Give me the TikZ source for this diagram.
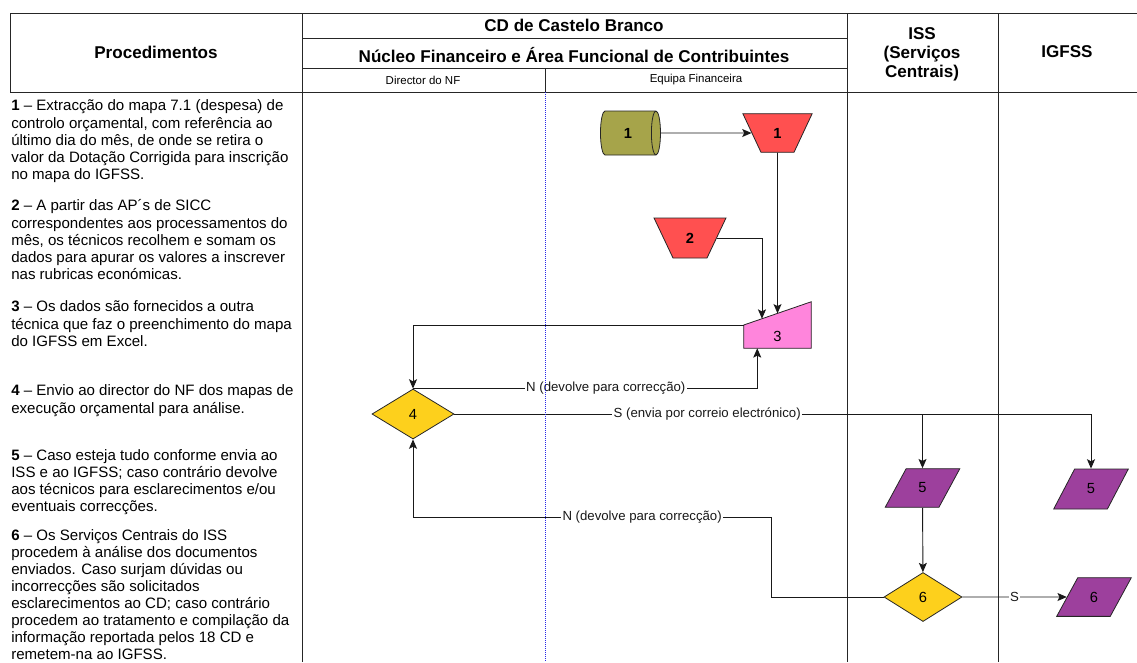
\documentclass[tikz,border=0pt]{standalone}
\usepackage{fontspec}
\setmainfont{Liberation Sans}
\usetikzlibrary{shapes.geometric,arrows.meta,calc}

\definecolor{oliveFill}{RGB}{166,164,74}
\definecolor{redFill}{RGB}{255,80,80}
\definecolor{pinkFill}{RGB}{255,133,220}
\definecolor{goldFill}{RGB}{253,208,28}
\definecolor{purpleFill}{RGB}{157,64,157}
\definecolor{laneBlue}{RGB}{40,40,230}

\begin{document}
\begin{tikzpicture}
[x=0.75pt,y=-0.75pt,
  tableLine/.style={line width=0.75pt,black!85},
  arrowDecorate/.style={-{Stealth[length=7pt,width=6pt,inset=1.5pt]},line width=0.7pt,black!90},
  headDecorate/.style={font=\fontsize{12.8}{14.3}\selectfont\bfseries,align=center},
  laneDecorate/.style={font=\fontsize{8.6}{10}\selectfont},
  stepDecorate/.style={anchor=north west,inner sep=0pt,align=left,font=\fontsize{11.3}{12.8}\selectfont},
  labelDecorate/.style={fill=white,inner sep=1pt,font=\fontsize{9.9}{11}\selectfont},
  shapeDecorate/.style={draw=black!85,line width=0.6pt,inner sep=0pt,font=\fontsize{11}{13}\selectfont},
  fileDecorate/.style={shapeDecorate,trapezium,trapezium stretches=true,shape border rotate=180,
    trapezium left angle=66,trapezium right angle=66,minimum width=52pt,minimum height=29pt,
    fill=redFill,font=\fontsize{11}{13}\selectfont\bfseries},
  docDecorate/.style={shapeDecorate,trapezium,trapezium stretches=true,trapezium left angle=63,
    trapezium right angle=117,minimum width=56pt,minimum height=29pt,fill=purpleFill},
  choiceDecorate/.style={shapeDecorate,diamond,aspect=1.6,fill=goldFill}]
\useasboundingbox (0,0) rectangle (1137,662);

%% table header
\draw[tableLine] (10,92) -- (10,13) -- (1137,13);
\draw[tableLine] (10,92) -- (1137,92);
\draw[tableLine] (302,38) -- (847,38);
\draw[tableLine] (302,68) -- (847,68);
\draw[tableLine] (545,68) -- (545,92);
\foreach \x in {302,847,998}
{
  \draw[tableLine] (\x,13) -- (\x,662);
}
\node[headDecorate] (proc) at (156,52) {Procedimentos};
\node[headDecorate] (cd) at (574,25) {CD de Castelo Branco};
\node[headDecorate] (nf) at (574,55) {Núcleo Financeiro e Área Funcional de Contribuintes};
\node[laneDecorate] (dir) at (423,80) {Director do NF};
\node[laneDecorate] (eq) at (696,80) {Equipa Financeira};
\node[headDecorate] (iss) at (922,54) {ISS\\(Serviços\\Centrais)};
\node[headDecorate] (igf) at (1067,52) {IGFSS};

%% procedure texts
\node[stepDecorate] (p1) at (11,96) {\rule{0pt}{11pt}\textbf{1} – Extracção do mapa 7.1 (despesa) de\\controlo orçamental, com referência ao\\último dia do mês, de onde se retira o\\valor da Dotação Corrigida para inscrição\\no mapa do IGFSS.};
\node[stepDecorate] (p2) at (11,196) {\rule{0pt}{11pt}\textbf{2} – A partir das AP´s de SICC\\correspondentes aos processamentos do\\mês, os técnicos recolhem e somam os\\dados para apurar os valores a inscrever\\nas rubricas económicas.};
\node[stepDecorate] (p3) at (11,297) {\rule{0pt}{11pt}\textbf{3} – Os dados são fornecidos a outra\\técnica que faz o preenchimento do mapa\\do IGFSS em Excel.};
\node[stepDecorate] (p4) at (11,381) {\rule{0pt}{11pt}\textbf{4} – Envio ao director do NF dos mapas de\\execução orçamental para análise.};
\node[stepDecorate] (p5) at (11,445.5) {\rule{0pt}{11pt}\textbf{5} – Caso esteja tudo conforme envia ao\\ISS e ao IGFSS; caso contrário devolve\\aos técnicos para esclarecimentos e/ou\\eventuais correcções.};
\node[stepDecorate] (p6) at (11,525.5) {\rule{0pt}{11pt}\textbf{6} – Os Serviços Centrais do ISS\\procedem à análise dos documentos\\enviados. Caso surjam dúvidas ou\\incorrecções são solicitados\\esclarecimentos ao CD; caso contrário\\procedem ao tratamento e compilação da\\informação reportada pelos 18 CD e\\remetem-na ao IGFSS.};

%% flow shapes
\node (db) at (628,133) [shapeDecorate,cylinder,aspect=0.9,minimum width=33pt,minimum height=45pt,
  fill=oliveFill,font=\fontsize{11}{13}\selectfont\bfseries] {1};
\node (t1) at (777.5,133) [fileDecorate] {1};
\node (t2) at (690,238) [fileDecorate,minimum width=54pt,minimum height=30pt] {2};
\node (n3) at (777.5,325) [inner sep=0pt,minimum width=50.25pt,minimum height=34.5pt] {};
\filldraw[fill=pinkFill,draw=black!85,line width=0.6pt]
  (n3.south west) -- (n3.south east) -- (n3.north east) -- (n3.west) -- cycle;
\node at (n3) [inner sep=0pt,text height=24pt,text depth=0pt,font=\fontsize{11}{13}\selectfont] {3};
\node (d4) at (413,414) [choiceDecorate,minimum width=61.5pt,minimum height=37.5pt] {4};
\node (i5) at (922.5,488) [docDecorate] {5};
\node (g5) at (1091,489) [docDecorate,minimum height=30pt] {5};
\node (d6) at (923,597) [choiceDecorate,minimum width=58.5pt,minimum height=36.75pt] {6};
\node (g6) at (1094,597) [docDecorate] {6};

%% connectors
\coordinate (s1) at ($(n3.west)!0.5!(n3.north east)$);
\coordinate (s2) at ($(n3.west)!0.27!(n3.north east)$);
\coordinate (s3) at ($(n3.south west)!0.2!(n3.south east)$);
\coordinate (k) at (771,517);
\draw[arrowDecorate] (db) -- (t1);
\draw[arrowDecorate] (t1) -- (s1);
\draw[arrowDecorate] (t2) -| (s2);
\draw[arrowDecorate] (n3.west) -| (d4);
\draw[arrowDecorate] (d4.north) -| node[labelDecorate,pos=0.28] {N (devolve para correcção)} (s3);
\draw[arrowDecorate] (d4.east) -| (g5);
\draw[arrowDecorate] (d4.east) -| node[labelDecorate,pos=0.27] {S (envia por correio electrónico)} (i5);
\draw[arrowDecorate] (i5) -- (d6);
\draw[arrowDecorate] (d6.west) -| (k) -| node[labelDecorate,pos=0.18] {N (devolve para correcção)} (d4);
\draw[arrowDecorate] (d6) -- node[labelDecorate] {S} (g6);

%% lane divider
\draw[laneBlue,dash pattern=on 0.75pt off 0.75pt,line width=0.6pt] (545,92) -- (545,662);
\end{tikzpicture}
\end{document}
